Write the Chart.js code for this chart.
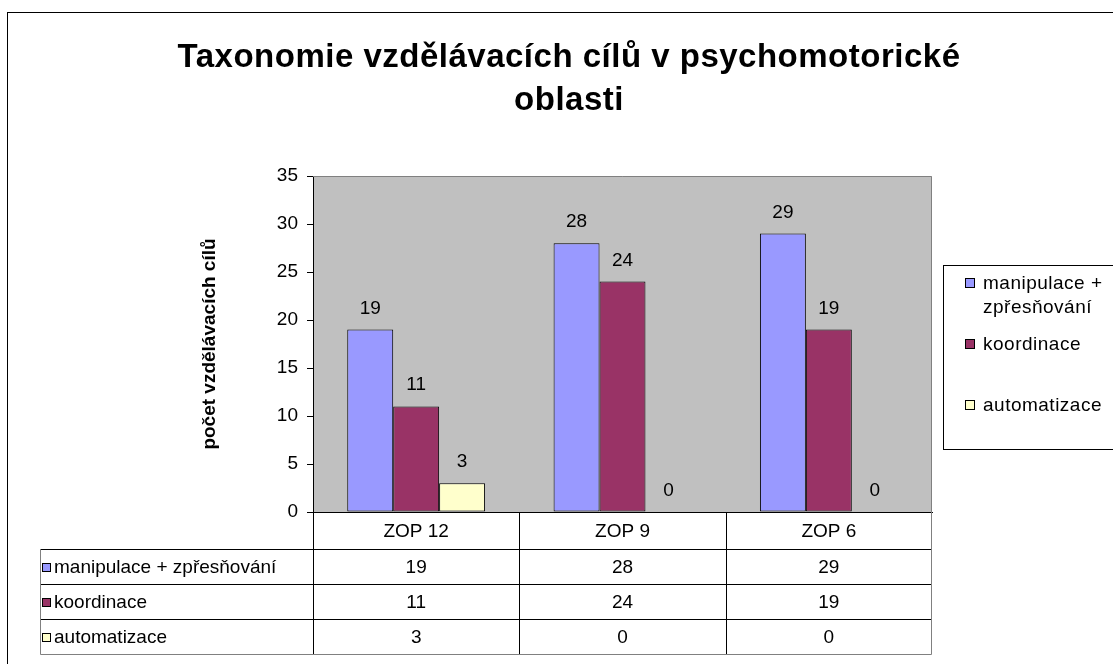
<!DOCTYPE html>
<html>
<head>
<meta charset="utf-8">
<script src="https://cdn.jsdelivr.net/npm/chart.js@4.4.1/dist/chart.umd.min.js"></script>
<style>
  html, body { margin: 0; padding: 0; background: #fff; }
  #wrap { width: 1113px; height: 664px; }
</style>
</head>
<body>
<div id="wrap"><canvas id="chart" width="1113" height="664"></canvas></div>
<script>
// chart data
const categories = ['ZOP 12', 'ZOP 9', 'ZOP 6'];
const seriesNames = ['manipulace + zpřesňování', 'koordinace', 'automatizace'];
const legendLines = [['manipulace +', 'zpřesňování'], ['koordinace'], ['automatizace']];
const manipulace = [19, 28, 29];
const koordinace = [11, 24, 19];
const automatizace = [3, 0, 0];
const yTicks = [0, 5, 10, 15, 20, 25, 30, 35];
const titleLines = ['Taxonomie vzdělávacích cílů v psychomotorické', 'oblasti'];
const yTitle = 'počet vzdělávacích cílů';

const seriesValues = [manipulace, koordinace, automatizace];
const colors = ['#9999FF', '#993366', '#FFFFCC'];
const FONT = '"Liberation Sans", Arial, sans-serif';

/**
 * Gray plot area, outer frame and the two-line title
 */
const backgroundPlugin = {
    id: 'background',
    beforeDraw(chart) {
        const ctx = chart.ctx;
        const a = chart.chartArea;
        ctx.save();
        ctx.fillStyle = '#fff';
        ctx.fillRect(0, 0, chart.width, chart.height);
        ctx.fillStyle = '#C0C0C0';
        ctx.fillRect(a.left, a.top, a.right - a.left, a.bottom - a.top);

        // outer frame (only left and top fall inside the picture)
        ctx.strokeStyle = '#000';
        ctx.lineWidth = 1;
        ctx.strokeRect(7.5, 12.5, 1200, 700);

        ctx.fillStyle = '#000';
        ctx.font = 'bold 33px ' + FONT;
        ctx.letterSpacing = '0.5px';
        ctx.textAlign = 'center';
        ctx.textBaseline = 'alphabetic';
        ctx.fillText(titleLines[0], 569, 67);
        ctx.fillText(titleLines[1], 569, 110);
        ctx.restore();
    }
};

/**
 * Value labels, data table under the axis and the legend box
 */
const extrasPlugin = {
    id: 'extras',
    afterDraw(chart) {
        const ctx = chart.ctx;
        const a = chart.chartArea;
        const xs = chart.scales.x;
        ctx.save();

        // plot border, top and right in gray
        ctx.strokeStyle = '#808080';
        ctx.lineWidth = 1;
        ctx.beginPath();
        ctx.moveTo(a.left, a.top + 0.5);
        ctx.lineTo(a.right - 0.5, a.top + 0.5);
        ctx.lineTo(a.right - 0.5, a.bottom);
        ctx.stroke();

        // value labels above bars
        ctx.fillStyle = '#000';
        ctx.font = '19px ' + FONT;
        ctx.textAlign = 'center';
        ctx.textBaseline = 'alphabetic';
        chart.data.datasets.forEach((ds, i) => {
            chart.getDatasetMeta(i).data.forEach((bar, j) => {
                ctx.fillText(String(ds.data[j]), bar.x, bar.y - 16);
            });
        });

        // data table
        const colW = (a.right - a.left) / categories.length;
        const edges = categories.map((c, i) => xs.getPixelForValue(i) - colW / 2);
        const tableLeft = 40;
        const headBottom = a.bottom + 37;
        const rowH = 35;
        const rows = seriesNames.length;
        const tableBottom = headBottom + rowH * rows;

        ctx.strokeStyle = '#000';
        ctx.beginPath();
        edges.forEach(x => {
            const px = Math.round(x) + 0.5;
            ctx.moveTo(px, a.bottom);
            ctx.lineTo(px, tableBottom);
        });
        for (let r = 0; r < rows; r++) {
            const py = Math.round(headBottom + r * rowH) + 0.5;
            ctx.moveTo(tableLeft, py);
            ctx.lineTo(a.right, py);
        }
        ctx.stroke();

        ctx.strokeStyle = '#808080';
        ctx.beginPath();
        ctx.moveTo(tableLeft + 0.5, headBottom);
        ctx.lineTo(tableLeft + 0.5, tableBottom + 0.5);
        ctx.lineTo(a.right - 0.5, tableBottom + 0.5);
        ctx.lineTo(a.right - 0.5, a.bottom);
        ctx.stroke();

        ctx.font = '19px ' + FONT;
        ctx.textBaseline = 'middle';
        for (let r = 0; r < rows; r++) {
            const cy = headBottom + r * rowH + rowH / 2;
            ctx.fillStyle = colors[r];
            ctx.fillRect(42, Math.round(cy) - 4, 9, 9);
            ctx.strokeStyle = '#000';
            ctx.strokeRect(42.5, Math.round(cy) - 3.5, 8, 8);
            ctx.fillStyle = '#000';
            ctx.textAlign = 'left';
            ctx.fillText(seriesNames[r], 54, cy + 1);
            ctx.textAlign = 'center';
            seriesValues[r].forEach((v, j) => {
                ctx.fillText(String(v), xs.getPixelForValue(j), cy + 1);
            });
        }

        // legend box
        ctx.strokeStyle = '#000';
        ctx.strokeRect(943.5, 265.5, 200, 184);
        ctx.font = '19px ' + FONT;
        ctx.letterSpacing = '0.5px';
        ctx.textAlign = 'left';
        ctx.textBaseline = 'alphabetic';
        const itemY = [289, 350, 411];
        legendLines.forEach((lines, i) => {
            ctx.fillStyle = colors[i];
            ctx.fillRect(965, itemY[i] - 11, 10, 10);
            ctx.strokeStyle = '#000';
            ctx.strokeRect(965.5, itemY[i] - 10.5, 9, 9);
            ctx.fillStyle = '#000';
            lines.forEach((t, k) => ctx.fillText(t, 983, itemY[i] + k * 24));
        });

        ctx.restore();
    }
};

const ctx = document.getElementById('chart');

new Chart(ctx, {
    type: 'bar',
    data: {
        labels: categories,
        datasets: seriesValues.map((vals, i) => ({
            label: seriesNames[i],
            data: vals,
            backgroundColor: colors[i],
            borderColor: '#000',
            borderWidth: 1,
            borderSkipped: false,
            categoryPercentage: 0.668,
            barPercentage: 1
        }))
    },
    options: {
        responsive: false,
        animation: false,
        devicePixelRatio: 1,
        layout: {
            padding: { left: 196, right: 181, top: 176, bottom: 115 }
        },
        plugins: {
            legend: { display: false },
            title: { display: false },
            tooltip: { enabled: false }
        },
        scales: {
            x: {
                grid: { display: false },
                border: { display: true, color: '#000', width: 1 },
                ticks: {
                    color: '#000',
                    font: { family: FONT, size: 19 },
                    padding: 0,
                    maxRotation: 0
                },
                afterFit: s => { s.height = 37; }
            },
            y: {
                min: yTicks[0],
                max: yTicks[yTicks.length - 1],
                afterBuildTicks: s => { s.ticks = yTicks.map(v => ({ value: v })); },
                grid: {
                    drawOnChartArea: false,
                    drawTicks: true,
                    tickLength: 6,
                    color: '#000'
                },
                border: { display: true, color: '#000', width: 1 },
                ticks: {
                    color: '#000',
                    font: { family: FONT, size: 19 },
                    padding: 9
                },
                title: {
                    display: true,
                    text: yTitle,
                    color: '#000',
                    font: { family: FONT, size: 19, weight: 'bold' },
                    padding: 2
                },
                afterFit: s => { s.width = 117; }
            }
        }
    },
    plugins: [backgroundPlugin, extrasPlugin]
});
</script>
</body>
</html>
